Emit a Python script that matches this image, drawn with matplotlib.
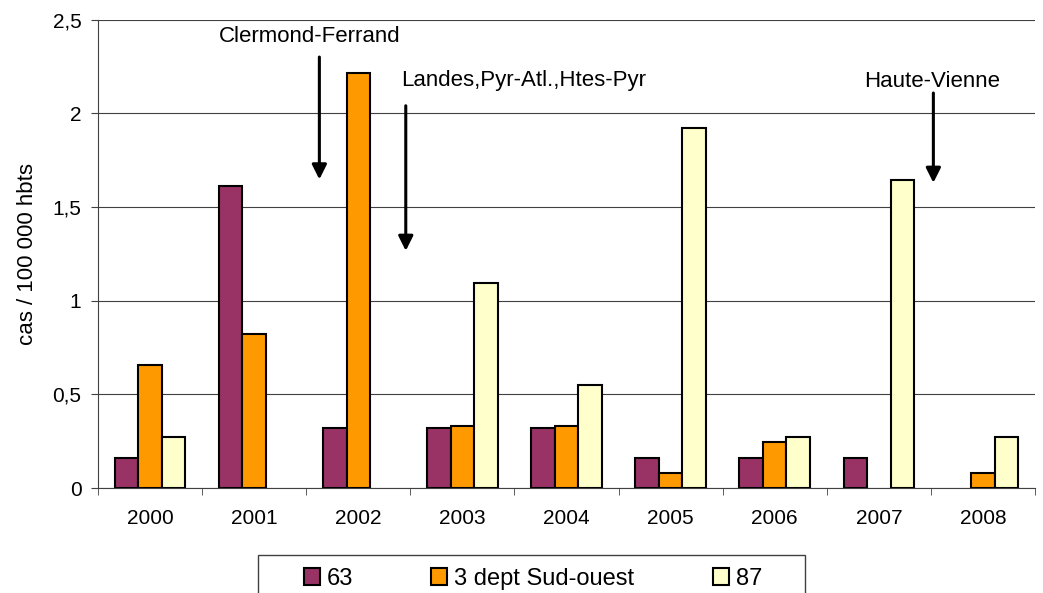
import numpy as np
import matplotlib
matplotlib.use("Agg")
from matplotlib import pyplot as plt
from matplotlib.patches import Rectangle
from matplotlib.ticker import FuncFormatter, FixedLocator

plt.rcParams['font.family'] = ['Liberation Sans', 'DejaVu Sans']

# Données
annees = ['2000', '2001', '2002', '2003', '2004', '2005', '2006', '2007', '2008']
serie_63 = [0.16, 1.61, 0.32, 0.32, 0.32, 0.16, 0.16, 0.16, 0.0]
serie_sud_ouest = [0.655, 0.82, 2.215, 0.33, 0.33, 0.08, 0.245, 0.0, 0.08]
serie_87 = [0.275, 0.0, 0.0, 1.095, 0.55, 1.92, 0.275, 1.645, 0.275]
noms_series = ['63', '3 dept Sud-ouest', '87']
couleurs = ['#993366', '#FF9900', '#FFFFCC']

fig = plt.figure(figsize=(10.43, 5.93), dpi=100)
ax = fig.add_axes([0.094, 0.177, 0.8983, 0.79])

x = np.arange(len(annees))
largeur = 0.226
for i, (vals, nom, coul) in enumerate(zip([serie_63, serie_sud_ouest, serie_87], noms_series, couleurs)):
    vals = np.array(vals)
    lw = np.where(vals > 0, 1.5, 0.0)  # pas de barre visible pour les valeurs nulles
    ax.bar(x + (i - 1) * largeur, vals, largeur, color=coul, edgecolor='black',
           linewidth=lw, label=nom, zorder=3)

ax.set_xlim(-0.5, len(annees) - 0.5)
ax.set_ylim(0, 2.5)
ax.set_yticks(np.arange(0, 2.51, 0.5))
ax.yaxis.set_major_formatter(FuncFormatter(lambda v, p: f'{v:g}'.replace('.', ',')))
ax.set_xticks(x)
ax.set_xticklabels(annees)
ax.xaxis.set_minor_locator(FixedLocator(np.arange(-0.5, len(annees), 1.0)))
ax.tick_params(axis='x', which='major', length=0, pad=15, labelsize=15)
ax.tick_params(axis='x', which='minor', length=5, direction='out', color='#404040')
ax.tick_params(axis='y', length=5, direction='out', color='#404040', labelsize=15, pad=7)

ax.grid(axis='y', color='#404040', linewidth=0.8, zorder=0)
for s in ['top', 'right']:
    ax.spines[s].set_visible(False)
ax.spines['left'].set_color('#404040')
ax.spines['bottom'].set_color('#404040')
ax.set_ylabel('cas / 100 000 hbts', fontsize=16, labelpad=10)

# Flèches et annotations
fleche = dict(arrowstyle='-|>', color='black', lw=2.2, mutation_scale=22, shrinkA=0, shrinkB=0)
ax.annotate('', xy=(1.626, 1.647), xytext=(1.626, 2.30), arrowprops=fleche)
ax.text(1.537, 2.407, 'Clermond-Ferrand', fontsize=16, ha='center', va='center')
ax.annotate('', xy=(2.456, 1.266), xytext=(2.456, 2.04), arrowprops=fleche)
ax.text(2.41, 2.177, 'Landes,Pyr-Atl.,Htes-Pyr', fontsize=16, ha='left', va='center')
ax.annotate('', xy=(7.524, 1.629), xytext=(7.524, 2.108), arrowprops=fleche)
ax.text(7.516, 2.168, 'Haute-Vienne', fontsize=16, ha='center', va='center')

# Légende en bas, cadre coupé par le bord de la figure
leg = fig.legend(loc='center', bbox_to_anchor=(0.511, 0.024), ncol=3, fontsize=17,
                 frameon=False, handlelength=0.68, handleheight=0.68, handletextpad=0.3,
                 columnspacing=3.3, borderpad=0, borderaxespad=0)
fig.patches.append(Rectangle((258 / 1043, -0.05), (805 - 258) / 1043, 0.05 + 1 - 555 / 593,
                             transform=fig.transFigure, fill=False, edgecolor='#404040',
                             linewidth=1.0))

fig.savefig('out.png', dpi=100)
